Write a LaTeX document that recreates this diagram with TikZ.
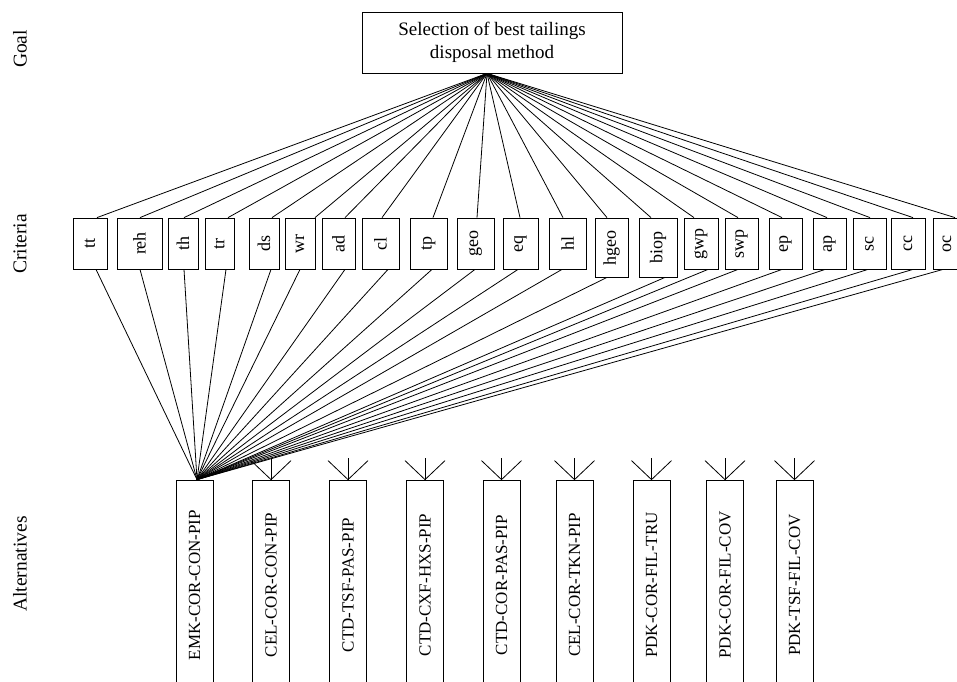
\documentclass[tikz,border=0pt]{standalone}
\usepackage{fontspec}
\setmainfont{Liberation Serif}
\begin{document}
\begin{tikzpicture}[x=1pt,y=-1pt,line width=0.8pt,
  goalbox/.style={draw,inner sep=0,minimum width=260pt,minimum height=61pt,align=center,font=\fontsize{19}{23}\selectfont},
  crit/.style={draw,inner sep=0,minimum height=51pt,font=\fontsize{18}{18}\selectfont},
  critlong/.style={crit,minimum height=59pt},
  alt/.style={draw,inner sep=0,minimum width=37pt,minimum height=210pt,font=\fontsize{17}{17}\selectfont},
  lvl/.style={rotate=90,inner sep=0,font=\fontsize{19.5}{19.5}\selectfont}]
\useasboundingbox (0,0) rectangle (957,681);
% level labels
\node[lvl] (lgoal) at (20,49) {Goal};
\node[lvl] (lcrit) at (20,244) {Criteria};
\node[lvl] (lalt) at (20,564) {Alternatives};
% goal
\node[goalbox] (goal) at (492,42.5) {Selection of best tailings\\disposal method};
% criteria
\node[crit,minimum width=34pt] (tt) at (90,243.5) {\rotatebox{90}{tt}};
\node[crit,minimum width=45pt] (reh) at (139.5,243.5) {\rotatebox{90}{reh}};
\node[crit,minimum width=30pt] (th) at (183,243.5) {\rotatebox{90}{th}};
\node[crit,minimum width=29pt] (tr) at (219.5,243.5) {\rotatebox{90}{tr}};
\node[crit,minimum width=30pt] (ds) at (264,243.5) {\rotatebox{90}{ds}};
\node[crit,minimum width=30pt] (wr) at (300,243.5) {\rotatebox{90}{wr}};
\node[crit,minimum width=33pt] (ad) at (338.5,243.5) {\rotatebox{90}{ad}};
\node[crit,minimum width=37pt] (cl) at (380.5,243.5) {\rotatebox{90}{cl}};
\node[crit,minimum width=37pt] (tp) at (428.5,243.5) {\rotatebox{90}{tp}};
\node[crit,minimum width=37pt] (geo) at (475.5,243.5) {\rotatebox{90}{geo}};
\node[crit,minimum width=35pt] (eq) at (520.5,243.5) {\rotatebox{90}{eq}};
\node[crit,minimum width=37pt] (hl) at (567.5,243.5) {\rotatebox{90}{hl}};
\node[critlong,minimum width=33pt] (hgeo) at (611.5,247.5) {\rotatebox{90}{hgeo}};
\node[critlong,minimum width=38pt] (biop) at (658,247.5) {\rotatebox{90}{biop}};
\node[crit,minimum width=34pt] (gwp) at (701,243.5) {\rotatebox{90}{gwp}};
\node[crit,minimum width=33pt] (swp) at (741.5,243.5) {\rotatebox{90}{swp}};
\node[crit,minimum width=33pt] (ep) at (785.5,243.5) {\rotatebox{90}{ep}};
\node[crit,minimum width=33pt] (ap) at (829.5,243.5) {\rotatebox{90}{ap}};
\node[crit,minimum width=33pt] (sc) at (869.5,243.5) {\rotatebox{90}{sc}};
\node[crit,minimum width=34pt] (cc) at (908,243.5) {\rotatebox{90}{cc}};
\node[crit,minimum width=28pt] (oc) at (947,243.5) {\rotatebox{90}{oc}};
% alternatives
\node[alt] (a1) at (194.5,585) {\rotatebox{90}{EMK-COR-CON-PIP}};
\node[alt] (a2) at (271,585) {\rotatebox{90}{CEL-COR-CON-PIP}};
\node[alt] (a3) at (348,585) {\rotatebox{90}{CTD-TSF-PAS-PIP}};
\node[alt] (a4) at (425,585) {\rotatebox{90}{CTD-CXF-HXS-PIP}};
\node[alt] (a5) at (501.5,585) {\rotatebox{90}{CTD-COR-PAS-PIP}};
\node[alt] (a6) at (574.5,585) {\rotatebox{90}{CEL-COR-TKN-PIP}};
\node[alt] (a7) at (651.5,585) {\rotatebox{90}{PDK-COR-FIL-TRU}};
\node[alt] (a8) at (725,585) {\rotatebox{90}{PDK-COR-FIL-COV}};
\node[alt] (a9) at (794.5,585) {\rotatebox{90}{PDK-TSF-FIL-COV}};
% connectors goal -> criteria -> first alternative
\foreach \n/\t/\b in {tt/7/6, reh/0.5/0.5, th/1/1, tr/8.5/6.5, ds/8/7, wr/15/0,
  ad/6.5/6.5, cl/1.5/7.5, tp/4.5/3.5, geo/1.5/-0.5, eq/-0.5/-2.5, hl/-4.5/-5.5,
  hgeo/-4.5/-4.5, biop/-7/7, gwp/-7/7, swp/-3.5/-3.5, ep/-3.5/-3.5, ap/-2.5/-4.5,
  sc/0.5/-1.5, cc/5/5, oc/8/-4} {
  \draw ([xshift=-5pt]goal.south) -- ([xshift=\t pt]\n.north);
  \draw ([xshift=\b pt]\n.south) -- ([xshift=2.5pt]a1.north);
}
% stubs on the other alternatives
\foreach \a in {a2,a3,a4,a5,a6,a7,a8,a9} {
  \draw (\a.north) -- ++(-20,-19);
  \draw (\a.north) -- ++(0,-22);
  \draw (\a.north) -- ++(20,-19);
}
\end{tikzpicture}
\end{document}
